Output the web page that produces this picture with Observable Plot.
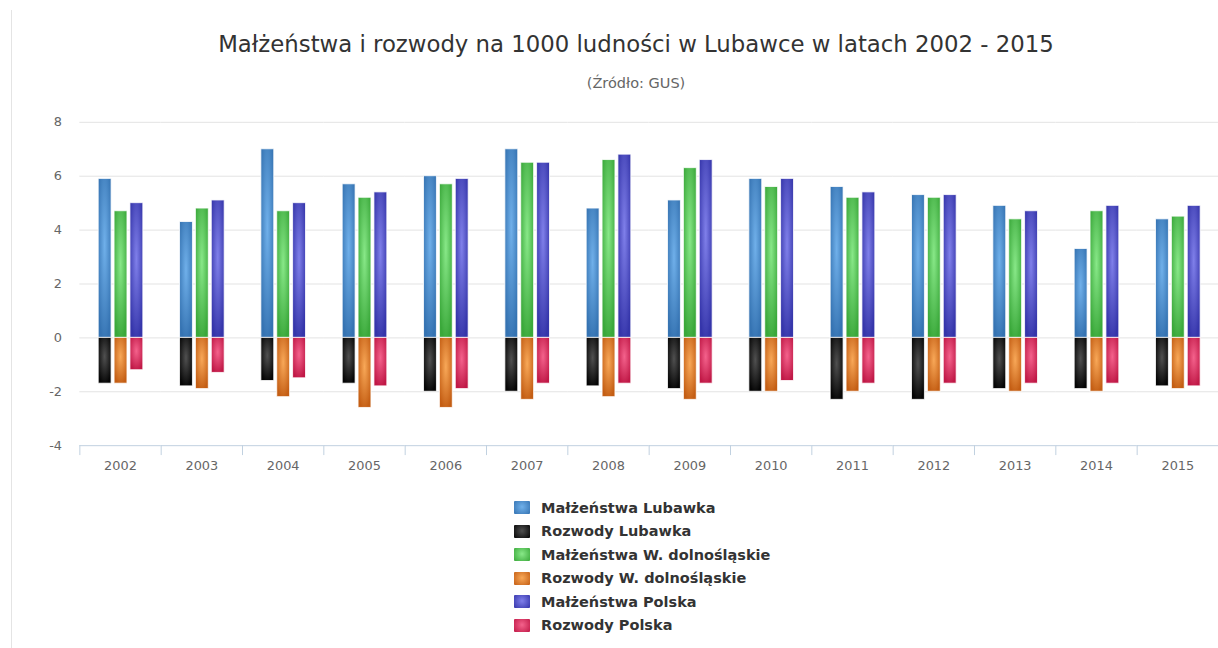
<!DOCTYPE html>
<html>
<head>
<meta charset="utf-8">
<script src="https://cdn.jsdelivr.net/npm/d3@7"></script>
<script src="https://cdn.jsdelivr.net/npm/@observablehq/plot@0.6"></script>
<style>
  html, body { margin: 0; padding: 0; background: #fff; overflow: hidden; width: 1218px; height: 648px; }
  body { position: relative; font-family: "DejaVu Sans", Verdana, sans-serif; }
  #border { position: absolute; left: 11px; top: 10px; width: 1px; height: 640px; background: #e4e4e4; }
  #title { position: absolute; left: 0; width: 1272px; top: 31px; text-align: center; font-size: 22.8px; color: #333; white-space: nowrap; }
  #subtitle { position: absolute; left: 0; width: 1272px; top: 75px; text-align: center; font-size: 14.5px; color: #666; white-space: nowrap; }
  #chart { position: absolute; left: 0; top: 100px; }
  #legend { position: absolute; left: 514px; top: 496px; }
  .item { display: flex; align-items: center; height: 23.5px; font-size: 14.5px; font-weight: bold; color: #333; }
  .sw { width: 16px; height: 13px; margin-right: 11px; border-radius: 1px; }
</style>
</head>
<body>
<div id="border"></div>
<div id="title">Małżeństwa i rozwody na 1000 ludności w Lubawce w latach 2002 - 2015</div>
<div id="subtitle">(Źródło: GUS)</div>
<div id="chart"></div>
<div id="legend"></div>
<script>
const years = ["2002","2003","2004","2005","2006","2007","2008","2009","2010","2011","2012","2013","2014","2015"];
const groups = ["Lubawka", "W. dolnośląskie", "Polska"];
const yTicks = [-4, -2, 0, 2, 4, 6, 8];

const marLubawka = [5.9, 4.3, 7.0, 5.7, 6.0, 7.0, 4.8, 5.1, 5.9, 5.6, 5.3, 4.9, 3.3, 4.4];
const rozLubawka = [-1.7, -1.8, -1.6, -1.7, -2.0, -2.0, -1.8, -1.9, -2.0, -2.3, -2.3, -1.9, -1.9, -1.8];
const marDolnoslaskie = [4.7, 4.8, 4.7, 5.2, 5.7, 6.5, 6.6, 6.3, 5.6, 5.2, 5.2, 4.4, 4.7, 4.5];
const rozDolnoslaskie = [-1.7, -1.9, -2.2, -2.6, -2.6, -2.3, -2.2, -2.3, -2.0, -2.0, -2.0, -2.0, -2.0, -1.9];
const marPolska = [5.0, 5.1, 5.0, 5.4, 5.9, 6.5, 6.8, 6.6, 5.9, 5.4, 5.3, 4.7, 4.9, 4.9];
const rozPolska = [-1.2, -1.3, -1.5, -1.8, -1.9, -1.7, -1.7, -1.7, -1.6, -1.7, -1.7, -1.7, -1.7, -1.8];

const seriesNames = ["Małżeństwa Lubawka", "Rozwody Lubawka", "Małżeństwa W. dolnośląskie", "Rozwody W. dolnośląskie", "Małżeństwa Polska", "Rozwody Polska"];
const seriesGroups = ["Lubawka", "Lubawka", "W. dolnośląskie", "W. dolnośląskie", "Polska", "Polska"];
const seriesValues = [marLubawka, rozLubawka, marDolnoslaskie, rozDolnoslaskie, marPolska, rozPolska];
// [light centre, dark edge]
const seriesColors = [
  ["#70b0ea", "#3573b2"],
  ["#505050", "#050505"],
  ["#88e888", "#3aa83a"],
  ["#f8a858", "#c45e14"],
  ["#8080ea", "#3535aa"],
  ["#f4628c", "#c01846"]
];
const gradIds = seriesNames.map((_, i) => "grad" + i);

const table = [];
seriesNames.forEach((name, s) => {
  seriesValues[s].forEach((v, i) => table.push({year: years[i], group: seriesGroups[s], series: name, value: v}));
});

const chart = Plot.plot({
  width: 1228,
  height: 393,
  marginLeft: 80,
  marginRight: 0,
  marginTop: 22,
  marginBottom: 45,
  style: {fontFamily: "DejaVu Sans, Verdana, sans-serif", fontSize: "13px", color: "#666", background: "transparent", overflow: "visible"},
  facet: {data: table, x: "year"},
  fx: {domain: years, padding: 0, label: null, tickSize: 0, tickPadding: 15},
  x: {domain: groups, paddingInner: 0.21, paddingOuter: 1.09, axis: null},
  y: {domain: [-4, 8], ticks: yTicks, tickSize: 0, tickPadding: 18, label: null, tickFormat: d => String(d)},
  color: {domain: seriesNames, range: gradIds.map(id => `url(#${id})`)},
  marks: [
    Plot.ruleY(yTicks.filter(t => t > -4), {stroke: "#e3e3e3", strokeWidth: 1}),
    Plot.ruleY([-4], {stroke: "#c0d0e0", strokeWidth: 1}),
    Plot.barY(table, {x: "group", y1: 0, y2: "value", fill: "series", stroke: "#ffffff", strokeWidth: 1, strokeOpacity: 0.8})
  ]
});

const svg = d3.select(chart.tagName.toLowerCase() === "svg" ? chart : chart.querySelector("svg"));
const defs = svg.insert("defs", ":first-child");
seriesColors.forEach(([light, dark], i) => {
  const g = defs.append("radialGradient").attr("id", gradIds[i])
    .attr("cx", 0.5).attr("cy", 0.42).attr("r", 0.62);
  g.append("stop").attr("offset", "0%").attr("stop-color", light);
  g.append("stop").attr("offset", "100%").attr("stop-color", dark);
});

// category boundary tick marks (Highcharts style)
const fxs = chart.scale("fx");
const ys = chart.scale("y");
const y0 = ys.apply(-4);
const edges = years.map(y => fxs.apply(y));
edges.push(fxs.apply(years[years.length - 1]) + fxs.bandwidth);
svg.append("g").selectAll("line").data(edges).join("line")
  .attr("x1", d => Math.round(d) + 0.5).attr("x2", d => Math.round(d) + 0.5)
  .attr("y1", y0).attr("y2", y0 + 10)
  .attr("stroke", "#c0d0e0");

document.getElementById("chart").appendChild(chart);

// legend
const legend = d3.select("#legend");
seriesNames.forEach((name, i) => {
  const item = legend.append("div").attr("class", "item");
  item.append("div").attr("class", "sw")
    .style("background", `radial-gradient(circle at 50% 45%, ${seriesColors[i][0]}, ${seriesColors[i][1]})`);
  item.append("span").text(name);
});
</script>
</body>
</html>
